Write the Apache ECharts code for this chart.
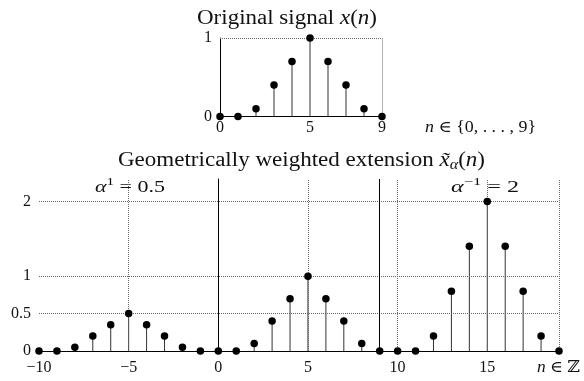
<!DOCTYPE html>
<html><head><meta charset="utf-8">
<script src="https://cdn.jsdelivr.net/npm/echarts@6/dist/echarts.min.js"></script>
<style>html,body{margin:0;padding:0;background:#fff}#c{width:584px;height:381px}</style>
</head><body><div id="c"></div>
<script>
// ---- data ----
const origN = [0, 1, 2, 3, 4, 5, 6, 7, 8, 9];
const origX = [0, 0, 0.1, 0.4, 0.7, 1, 0.7, 0.4, 0.1, 0];
const extN = [-10, -9, -8, -7, -6, -5, -4, -3, -2, -1,
              0, 1, 2, 3, 4, 5, 6, 7, 8, 9,
              10, 11, 12, 13, 14, 15, 16, 17, 18, 19];
const extX = [0, 0, 0.05, 0.2, 0.35, 0.5, 0.35, 0.2, 0.05, 0,
              0, 0, 0.1, 0.4, 0.7, 1, 0.7, 0.4, 0.1, 0,
              0, 0, 0.2, 0.8, 1.4, 2, 1.4, 0.8, 0.2, 0];
const topXTicks = [0, 5, 9];
const topYTicks = [0, 1];
const botXTicks = [-10, -5, 0, 5, 10, 15];
const botYTicks = [0, 0.5, 1, 2];
const botDottedX = [-5, 5, 10, 15, 19];
const botSolidX = [0, 9];
const botDottedY = [0.5, 1, 2];

const SERIF = '"Liberation Serif", "DejaVu Serif", serif';
const INK = '#000';

// ---- text helper (math-like labels built of pieces) ----
const mctx = document.createElement('canvas').getContext('2d');
function fontStr(size, italic) { return (italic ? 'italic ' : '') + size + 'px ' + SERIF; }
function measure(t, size, italic) { mctx.font = fontStr(size, italic); return mctx.measureText(t).width; }
function mathText(pieces, left, width, y) {
  const ws = pieces.map(p => measure(p[0], p[1], p[2]));
  const total = ws.reduce((a, b) => a + b, 0);
  const s = width / total;
  let cx = 0;
  const children = pieces.map((p, i) => {
    const el = {
      type: 'text', x: cx, y: (p[3] || 0),
      style: { text: p[0], font: fontStr(p[1], p[2]), fill: '#111', textAlign: 'left', textVerticalAlign: 'middle' }
    };
    cx += ws[i];
    return el;
  });
  return { type: 'group', x: left, y: y, scaleX: s, silent: true, children: children };
}

function stemRender(params, api) {
  const p0 = api.coord([api.value(0), 0]);
  const p1 = api.coord([api.value(0), api.value(1)]);
  return { type: 'line', shape: { x1: p0[0], y1: p0[1], x2: p1[0], y2: p1[1] },
           style: { stroke: '#333', lineWidth: 1 } };
}

const dotted = { type: 'dotted', color: '#666', width: 1 };
const solid = { type: 'solid', color: INK, width: 1 };
const mlBase = { silent: true, symbol: 'none', label: { show: false }, animation: false };

const labelFont = { fontFamily: SERIF, fontSize: 16, color: '#111' };
const dotStyle = { color: INK, opacity: 1 };

const option = {
  animation: false,
  backgroundColor: '#fff',
  grid: [
    { left: 220, top: 38, width: 162, height: 78.5 },
    { left: 39, top: 179, width: 520, height: 172 }
  ],
  xAxis: [
    { type: 'value', gridIndex: 0, min: 0, max: 9, interval: 1,
      axisLine: { show: true, lineStyle: { color: INK, width: 1 } },
      axisTick: { show: false }, splitLine: { show: false },
      axisLabel: Object.assign({ margin: 3, formatter: v => topXTicks.includes(v) ? String(v) : '' }, labelFont) },
    { type: 'value', gridIndex: 1, min: -10, max: 19, interval: 5,
      axisLine: { show: true, onZero: false, lineStyle: { color: INK, width: 1 } },
      axisTick: { show: false }, splitLine: { show: false },
      axisLabel: Object.assign({ margin: 9, formatter: v => botXTicks.includes(v) ? String(v).replace('-', '\u2212') : '' }, labelFont) }
  ],
  yAxis: [
    { type: 'value', gridIndex: 0, min: 0, max: 1, interval: 1,
      axisLine: { show: true, lineStyle: { color: INK, width: 1 } },
      axisTick: { show: false }, splitLine: { show: false },
      axisLabel: Object.assign({ margin: 8, formatter: v => topYTicks.includes(v) ? String(v) : '' }, labelFont) },
    { type: 'value', gridIndex: 1, min: 0, max: 2.3, interval: 0.5,
      axisLine: { show: true, lineStyle: { color: INK, width: 1 } },
      axisTick: { show: false }, splitLine: { show: false },
      axisLabel: Object.assign({ margin: 8, formatter: v => botYTicks.includes(v) ? String(v) : '' }, labelFont) }
  ],
  series: [
    { type: 'custom', xAxisIndex: 0, yAxisIndex: 0, renderItem: stemRender, z: 3,
      data: origN.map((n, i) => [n, origX[i]]),
      markLine: Object.assign({ lineStyle: dotted, data: [{ yAxis: 1 }, { xAxis: 9 }] }, mlBase) },
    { type: 'scatter', xAxisIndex: 0, yAxisIndex: 0, symbolSize: 7.5, z: 10,
      itemStyle: dotStyle, data: origN.map((n, i) => [n, origX[i]]) },
    { type: 'custom', xAxisIndex: 1, yAxisIndex: 1, renderItem: stemRender, z: 3,
      data: extN.map((n, i) => [n, extX[i]]),
      markLine: Object.assign({ lineStyle: dotted,
        data: botDottedX.map(v => ({ xAxis: v })).concat(botDottedY.map(v => ({ yAxis: v }))) }, mlBase) },
    { type: 'line', xAxisIndex: 1, yAxisIndex: 1, data: [], z: 4,
      markLine: Object.assign({ lineStyle: solid, data: botSolidX.map(v => ({ xAxis: v })) }, mlBase) },
    { type: 'scatter', xAxisIndex: 1, yAxisIndex: 1, symbolSize: 7.5, z: 10,
      itemStyle: dotStyle, data: extN.map((n, i) => [n, extX[i]]) }
  ],
  graphic: [
    mathText([['Original signal ', 20], ['x', 20, true], ['(', 20], ['n', 20, true], [')', 20]], 197, 180, 19),
    mathText([['Geometrically weighted extension ', 20], ['x\u0303', 20, true], ['\u03b1', 14, true, 4],
              ['(', 20], ['n', 20, true], [')', 20]], 118, 367, 161),
    mathText([['n', 16, true], [' \u2208 {0, . . . , 9}', 16]], 425, 111, 128),
    mathText([['\u03b1', 16, true], ['1', 11, false, -6], [' = 0.5', 16]], 95, 70, 188),
    mathText([['\u03b1', 16, true], ['\u22121', 11, false, -6], [' = 2', 16]], 451, 68, 188),
    mathText([['n', 16, true], [' \u2208 \u2124', 16]], 537, 43, 368)
  ]
};

const chart = echarts.init(document.getElementById('c'), null, { renderer: 'canvas' });
chart.setOption(option);
</script>
</body></html>
